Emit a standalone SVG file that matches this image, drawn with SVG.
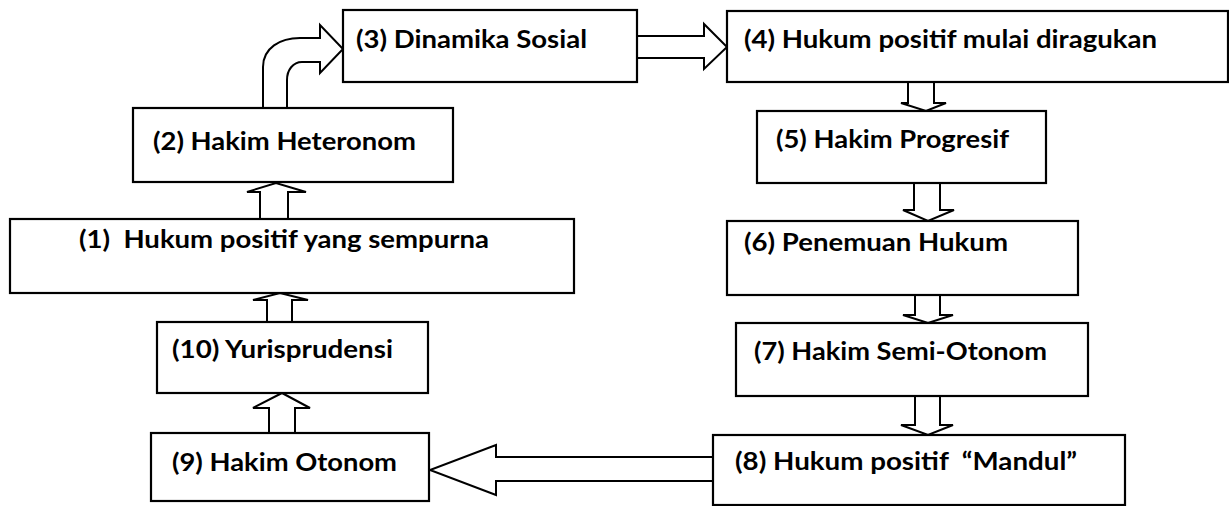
<svg xmlns="http://www.w3.org/2000/svg" width="1229" height="506" viewBox="0 0 1229 506">
<style>
.box{fill:#fff;stroke:#000;stroke-width:2.2}
.arr{fill:#fff;stroke:#000;stroke-width:2;stroke-linejoin:miter}
.lbl{font-family:Lato,"Liberation Sans",sans-serif;font-weight:bold;font-size:24px;fill:#000}
</style>
<rect width="1229" height="506" fill="#fff"/>
<g id="connectors">
<path class="arr" d="M263,109 L263,67 C263,48 280,38 300,38 L320,38 L320,25 L343,49 L320,73 L320,62 L302,62 C293,62 287,70 287,80 L287,109"/>
<path class="arr" d="M638,36 L704,36 L704,24 L727,47 L704,69 L704,58 L638,58"/>
<path class="arr" d="M260,219 L260,192 L247,192 L276,183 L306,192 L288,192 L288,219"/>
<path class="arr" d="M267,322 L267,300 L253,300 L280,293 L308,300 L292,300 L292,322"/>
<path class="arr" d="M269,433 L269,408 L253,408 L282,393 L310,408 L295,408 L295,433"/>
<path class="arr" d="M908,82 L908,103 L901,103 L926,111 L946,103 L934,103 L934,82"/>
<path class="arr" d="M914,183 L914,210 L903,210 L928,221 L954,210 L940,210 L940,183"/>
<path class="arr" d="M915,295 L915,315 L903,315 L928,323 L953,315 L940,315 L940,295"/>
<path class="arr" d="M915,396 L915,425 L901,425 L928,435 L953,425 L940,425 L940,396"/>
<path class="arr" d="M713,457 L496,457 L496,445 L430,470 L496,495 L496,481 L713,481"/>
</g>
<g id="node3"><rect class="box" x="343" y="10" width="294" height="72"/><text class="lbl" x="356" y="48" textLength="231" lengthAdjust="spacingAndGlyphs">(3) Dinamika Sosial</text></g>
<g id="node4"><rect class="box" x="727" y="11" width="501" height="71"/><text class="lbl" x="744" y="48" textLength="413" lengthAdjust="spacingAndGlyphs">(4) Hukum positif mulai diragukan</text></g>
<g id="node2"><rect class="box" x="133" y="108" width="320" height="74"/><text class="lbl" x="153" y="150" textLength="263" lengthAdjust="spacingAndGlyphs">(2) Hakim Heteronom</text></g>
<g id="node5"><rect class="box" x="757" y="111" width="289" height="72"/><text class="lbl" x="776" y="148" textLength="233" lengthAdjust="spacingAndGlyphs">(5) Hakim Progresif</text></g>
<g id="node1"><rect class="box" x="10" y="219" width="564" height="74"/><text class="lbl" x="79" y="248" textLength="410" lengthAdjust="spacingAndGlyphs" xml:space="preserve">(1)  Hukum positif yang sempurna</text></g>
<g id="node6"><rect class="box" x="727" y="221" width="351" height="74"/><text class="lbl" x="744" y="251" textLength="264" lengthAdjust="spacingAndGlyphs">(6) Penemuan Hukum</text></g>
<g id="node10"><rect class="box" x="157" y="322" width="271" height="71"/><text class="lbl" x="172" y="358" textLength="221" lengthAdjust="spacingAndGlyphs">(10) Yurisprudensi</text></g>
<g id="node7"><rect class="box" x="736" y="323" width="352" height="73"/><text class="lbl" x="754" y="360" textLength="293" lengthAdjust="spacingAndGlyphs">(7) Hakim Semi-Otonom</text></g>
<g id="node9"><rect class="box" x="151" y="433" width="278" height="68"/><text class="lbl" x="172" y="471" textLength="225" lengthAdjust="spacingAndGlyphs">(9) Hakim Otonom</text></g>
<g id="node8"><rect class="box" x="713" y="435" width="412" height="70"/><text class="lbl" x="735" y="470" textLength="342" lengthAdjust="spacingAndGlyphs" xml:space="preserve">(8) Hukum positif  “Mandul”</text></g>
</svg>
